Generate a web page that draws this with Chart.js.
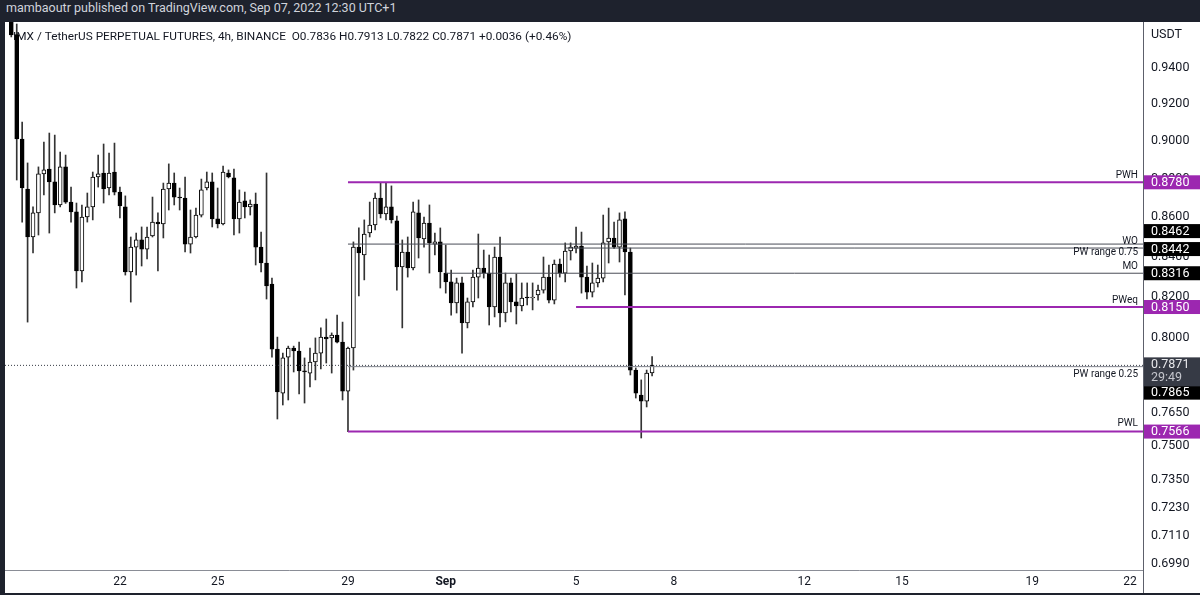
<!DOCTYPE html>
<html>
<head>
<meta charset="utf-8">
<script src="https://cdn.jsdelivr.net/npm/chart.js@4.4.0/dist/chart.umd.min.js"></script>
<style>
  html, body { margin: 0; padding: 0; width: 1200px; height: 595px; overflow: hidden; background: #1e222d; }
  #hdr { position: absolute; left: 0; top: 0; width: 1200px; height: 22px; line-height: 23px;
         padding-left: 6px; box-sizing: border-box; color: #d1d4dc; font: 12.5px Roboto, "Liberation Sans", sans-serif; }
  #wrap { position: absolute; left: 5px; top: 22px; width: 1195px; height: 571px; background: #fff; }
</style>
</head>
<body>
<div id="hdr">mambaoutr published on TradingView.com, Sep 07, 2022 12:30 UTC+1</div>
<div id="wrap"><canvas id="chart" width="1195" height="571"></canvas></div>
<script>
// 4h candles, IMX/USDT perp (index 0 = first visible candle)
const opens = [0.9662,0.9590,0.9010,0.8745,0.8498,0.8621,0.8824,0.8850,0.8782,0.8662,
  0.8861,0.8677,0.8626,0.8327,0.8600,0.8652,0.8808,0.8829,0.8750,0.8834,
  0.8729,0.8652,0.8322,0.8447,0.8483,0.8437,0.8503,0.8574,0.8564,0.8745,
  0.8776,0.8703,0.8698,0.8462,0.8498,0.8610,0.8750,0.8782,0.8590,0.8564,
  0.8829,0.8803,0.8590,0.8683,0.8652,0.8667,0.8447,0.8367,0.8263,0.7948,
  0.7742,0.7910,0.7953,0.7939,0.7845,0.7835,0.7887,0.7929,0.8005,0.8001,
  0.8015,0.7981,0.7751,0.7953,0.8447,0.8407,0.8518,0.8559,0.8698,0.8616,
  0.8652,0.8580,0.8347,0.8422,0.8342,0.8621,0.8488,0.8569,0.8462,0.8473,
  0.8317,0.8273,0.8170,0.8268,0.8073,0.8175,0.8297,0.8342,0.8317,0.8150,
  0.8397,0.8121,0.8268,0.8175,0.8155,0.8199,0.8194,0.8209,0.8233,0.8297,
  0.8184,0.8362,0.8317,0.8427,0.8442,0.8452,0.8297,0.8223,0.8268,0.8292,
  0.8473,0.8493,0.8447,0.8590,0.8422,0.7849,0.7733,0.7705,0.7836];
const highs = [0.9685,0.9650,0.9102,0.8882,0.8652,0.8861,0.8994,0.9042,0.9031,0.8940,
  0.8924,0.8755,0.8672,0.8662,0.8724,0.8834,0.8924,0.8983,0.8935,0.8988,
  0.8755,0.8709,0.8498,0.8518,0.8549,0.8549,0.8703,0.8621,0.8776,0.8877,
  0.8829,0.8750,0.8808,0.8636,0.8646,0.8797,0.8834,0.8829,0.8750,0.8866,
  0.8845,0.8850,0.8740,0.8729,0.8688,0.8724,0.8523,0.8829,0.8292,0.8005,
  0.7929,0.7962,0.7962,0.7981,0.7906,0.7953,0.8001,0.8049,0.8092,0.8025,
  0.8111,0.8077,0.7958,0.8473,0.8544,0.8585,0.8677,0.8724,0.8776,0.8780,
  0.8761,0.8605,0.8483,0.8498,0.8677,0.8688,0.8600,0.8662,0.8518,0.8544,
  0.8457,0.8332,0.8292,0.8297,0.8194,0.8332,0.8513,0.8432,0.8407,0.8447,
  0.8498,0.8317,0.8292,0.8312,0.8268,0.8268,0.8268,0.8258,0.8397,0.8357,
  0.8382,0.8387,0.8468,0.8468,0.8549,0.8523,0.8352,0.8367,0.8357,0.8610,
  0.8646,0.8574,0.8621,0.8626,0.8442,0.7859,0.7803,0.7849,0.7913];
const lows = [0.9576,0.8792,0.8574,0.8077,0.8417,0.8508,0.8714,0.8518,0.8621,0.8652,
  0.8670,0.8574,0.8243,0.8273,0.8574,0.8585,0.8755,0.8672,0.8714,0.8714,
  0.8595,0.8307,0.8174,0.8307,0.8352,0.8387,0.8498,0.8327,0.8493,0.8636,
  0.8662,0.8636,0.8422,0.8417,0.8493,0.8600,0.8740,0.8549,0.8544,0.8559,
  0.8803,0.8508,0.8518,0.8595,0.8610,0.8357,0.8322,0.8189,0.7910,0.7623,
  0.7687,0.7710,0.7840,0.7738,0.7696,0.7770,0.7803,0.7854,0.7882,0.7835,
  0.7977,0.7710,0.7566,0.7849,0.8204,0.8283,0.8498,0.8534,0.8595,0.8585,
  0.8569,0.8233,0.8049,0.8297,0.8332,0.8392,0.8447,0.8317,0.8407,0.8243,
  0.8218,0.8111,0.8121,0.7929,0.8049,0.8150,0.8194,0.8292,0.8063,0.8102,
  0.8054,0.8078,0.8126,0.8068,0.8131,0.8160,0.8136,0.8184,0.8218,0.8170,
  0.8165,0.8297,0.8273,0.8382,0.8417,0.8218,0.8189,0.8199,0.8248,0.8273,
  0.8367,0.8440,0.8372,0.8209,0.7826,0.7719,0.7537,0.7678,0.7822];
const closes = [0.9587,0.9010,0.8750,0.8498,0.8621,0.8824,0.8845,0.8782,0.8662,0.8861,
  0.8677,0.8626,0.8327,0.8600,0.8652,0.8808,0.8824,0.8745,0.8829,0.8729,
  0.8657,0.8322,0.8447,0.8483,0.8437,0.8498,0.8574,0.8564,0.8745,0.8776,
  0.8703,0.8698,0.8462,0.8498,0.8610,0.8740,0.8782,0.8590,0.8564,0.8834,
  0.8808,0.8590,0.8677,0.8652,0.8667,0.8447,0.8367,0.8253,0.7948,0.7747,
  0.7906,0.7953,0.7939,0.7845,0.7840,0.7887,0.7929,0.8005,0.7996,0.8015,
  0.7981,0.7751,0.7953,0.8447,0.8417,0.8513,0.8559,0.8698,0.8616,0.8652,
  0.8585,0.8347,0.8422,0.8342,0.8626,0.8493,0.8569,0.8468,0.8473,0.8322,
  0.8273,0.8170,0.8268,0.8073,0.8175,0.8297,0.8342,0.8317,0.8150,0.8397,
  0.8121,0.8268,0.8175,0.8155,0.8194,0.8194,0.8199,0.8233,0.8297,0.8184,
  0.8362,0.8317,0.8427,0.8447,0.8452,0.8297,0.8223,0.8268,0.8292,0.8468,
  0.8493,0.8447,0.8585,0.8422,0.7849,0.7742,0.7705,0.7835,0.7871];

// x axis: candle index of first candle of each labelled day
const dayTicks = [20, 38, 62, 80, 104, 122, 146, 164, 188, 206];
const dayLabels = ['22', '25', '29', 'Sep', '5', '8', '12', '15', '19', '22'];
const priceTicks = [0.94, 0.92, 0.90, 0.88, 0.86, 0.84, 0.82, 0.80, 0.765, 0.75, 0.735, 0.723, 0.711, 0.699];

// drawn levels
const levelNames  = ['PWH', 'PW range 0.75', 'WO', 'MO', 'PWeq', 'PW range 0.25', 'PWL'];
const levelValues = [0.8780, 0.8462, 0.8442, 0.8316, 0.8150, 0.7865, 0.7566];
const levelFrom   = [62, 62, 102, 80, 104, 62, 62];
const lastPrice = 0.7871;
const countdown = '29:49';

const X_MIN = -1.16, X_MAX = 208.4;
const PURPLE = '#9c27b0';
const FONT = 'Roboto, "Liberation Sans", sans-serif';

const levelColor = ['purple', 'dark', 'dark', 'dark', 'purple', 'grey', 'purple'];
const lineStyle = { purple: [PURPLE, 2], dark: ['#4a4d57', 1], grey: ['#80838d', 1] };
const textDy = [-7, 8, -7, -7, -7, 8, -8];
const boxDy  = [0, -13, 1, 0, 0, 26, 0];

const levelSets = levelValues.map((v, i) => ({
  type: 'line',
  data: [{ x: levelFrom[i], y: v }, { x: X_MAX, y: v }],
  borderColor: lineStyle[levelColor[i]][0],
  borderWidth: lineStyle[levelColor[i]][1],
  pointRadius: 0,
  order: -1
}));

const overlay = {
  id: 'overlay',
  beforeDatasetsDraw(chart) {
    const ctx = chart.ctx;
    ctx.save();
    ctx.fillStyle = '#131722';
    ctx.font = '11.8px ' + FONT;
    ctx.textBaseline = 'middle';
    ctx.fillText('IMX / TetherUS PERPETUAL FUTURES, 4h, BINANCE  O0.7836 H0.7913 L0.7822 C0.7871 +0.0036 (+0.46%)', 8, 15);
    ctx.restore();
  },
  afterDraw(chart) {
    const ctx = chart.ctx, a = chart.chartArea, y = chart.scales.y;
    ctx.save();
    // price axis divider runs down through the time axis row
    ctx.strokeStyle = '#5d606b';
    ctx.lineWidth = 1;
    ctx.beginPath();
    ctx.moveTo(a.right + 0.5, 0);
    ctx.lineTo(a.right + 0.5, chart.height);
    ctx.stroke();

    // level names
    ctx.font = '10px ' + FONT;
    ctx.fillStyle = '#131722';
    ctx.textAlign = 'right';
    ctx.textBaseline = 'middle';
    levelValues.forEach((v, i) => {
      ctx.fillText(levelNames[i], a.right - 5, y.getPixelForValue(v) + textDy[i]);
    });

    // price labels on the axis
    const bx = a.right + 1, bw = chart.width - bx;
    ctx.textAlign = 'left';
    ctx.font = '12.5px ' + FONT;
    levelValues.forEach((v, i) => {
      const cy = y.getPixelForValue(v) + boxDy[i];
      ctx.fillStyle = levelColor[i] === 'purple' ? PURPLE : '#000';
      ctx.fillRect(bx, cy - 7, bw, 14);
      ctx.fillStyle = '#fff';
      ctx.fillText(v.toFixed(4), a.right + 8, cy + 0.5);
    });
    const py = y.getPixelForValue(lastPrice);
    ctx.fillStyle = '#363a45';
    ctx.fillRect(bx, py - 8, bw, 29);
    ctx.fillStyle = '#e8e9ec';
    ctx.fillText(lastPrice.toFixed(4), a.right + 8, py);
    ctx.fillStyle = '#c3c5cc';
    ctx.fillText(countdown, a.right + 8, py + 13);

    ctx.fillStyle = '#131722';
    ctx.fillText('USDT', a.right + 8, 13);
    ctx.restore();
  }
};

new Chart(document.getElementById('chart'), {
  type: 'bar',
  data: {
    datasets: [
      {
        label: 'bodies',
        data: opens.map((o, i) => ({ x: i, y: [Math.min(o, closes[i]), Math.max(o, closes[i])] })),
        backgroundColor: opens.map((o, i) => closes[i] >= o ? '#ffffff' : '#000000'),
        borderColor: '#000',
        borderWidth: 1,
        borderSkipped: false,
        barThickness: 4,
        grouped: false,
        order: 0
      },
      {
        label: 'wicks',
        data: lows.map((l, i) => ({ x: i, y: [l, highs[i]] })),
        backgroundColor: '#333333',
        barThickness: 1,
        grouped: false,
        order: 1
      },
      ...levelSets,
      {
        type: 'line',
        data: [{ x: X_MIN, y: lastPrice }, { x: X_MAX, y: lastPrice }],
        borderColor: '#363a45',
        borderWidth: 1,
        borderDash: [1, 2],
        pointRadius: 0,
        order: -2
      }
    ]
  },
  options: {
    responsive: false,
    animation: false,
    layout: { padding: 0 },
    plugins: { legend: { display: false }, tooltip: { enabled: false } },
    scales: {
      x: {
        type: 'linear',
        min: X_MIN,
        max: X_MAX,
        offset: false,
        grid: { display: false, drawTicks: false },
        border: { display: true, color: '#8a8d96' },
        afterBuildTicks: s => { s.ticks = dayTicks.map(v => ({ value: v })); },
        afterFit: s => { s.height = 23; s.paddingLeft = 0; s.paddingRight = 0; },
        ticks: {
          autoSkip: false,
          maxRotation: 0,
          padding: 5,
          color: '#131722',
          font: c => ({ family: FONT, size: 12, weight: c.index === 3 ? 'bold' : 'normal' }),
          callback: (v, i) => dayLabels[i]
        }
      },
      y: {
        type: 'logarithmic',
        position: 'right',
        min: 0.69659,
        max: 0.96617,
        grid: { display: false, drawTicks: false },
        border: { display: true, color: '#5d606b' },
        afterBuildTicks: s => { s.ticks = priceTicks.map(v => ({ value: v })); },
        afterFit: s => { s.width = 57; s.paddingTop = 0; s.paddingBottom = 0; },
        ticks: {
          padding: 8,
          color: '#131722',
          font: { family: FONT, size: 12.5 },
          callback: v => Number(v).toFixed(4)
        }
      }
    }
  },
  plugins: [overlay]
});
</script>
</body>
</html>
